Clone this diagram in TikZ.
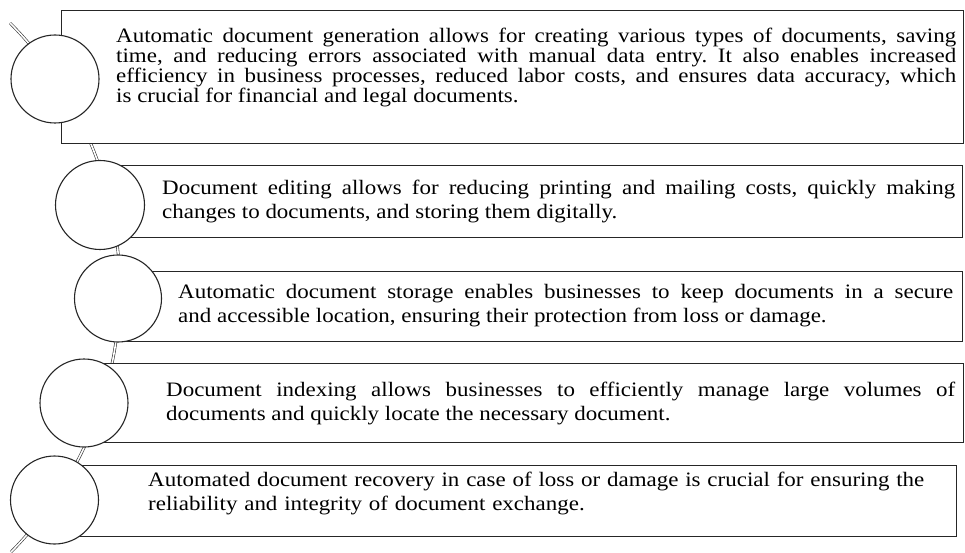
\documentclass[tikz,border=0pt]{standalone}
\usepackage{fontspec}
\setmainfont[FakeStretch=1.12]{Liberation Serif}
\usepackage{tikz}
\frenchspacing

\begin{document}
\begin{tikzpicture}[x=1pt,y=1pt,
  panel/.style={draw=black!85,line width=1.3pt,fill=white,anchor=south west,inner sep=0pt},
  bead/.style={circle,draw=black!85,line width=1.1pt,fill=white,inner sep=0pt,minimum size=88pt},
  note/.style={anchor=west,inner sep=0pt,align=justify,text=black,font=\fontsize{20.5}{24}\selectfont},
  link/.style={draw=black!80,line width=0.6pt,double=white,double distance=1.6pt}]
\useasboundingbox (0,0) rectangle (965,552);
\coordinate (top) at (10,529);
\coordinate (bot) at (11,0);
\draw[link] (top) to[bend left=44.7] (bot);
\node[panel,minimum width=902pt,minimum height=133pt] (b1) at (61,408) {};
\node[panel,minimum width=862pt,minimum height=72pt] (b2) at (100,314) {};
\node[panel,minimum width=844pt,minimum height=70pt] (b3) at (118,210) {};
\node[panel,minimum width=879pt,minimum height=79pt] (b4) at (84,109) {};
\node[panel,minimum width=901pt,minimum height=71pt] (b5) at (55,15) {};
\node[bead] (c1) at (55,473) {};
\node[bead,minimum size=89pt] (c2) at (100,347) {};
\node[bead,minimum size=87pt] (c3) at (118,253.5) {};
\node[bead] (c4) at (84,149) {};
\node[bead] (c5) at (54.5,52) {};
\node[note,text width=840pt,font=\fontsize{20.5}{20}\selectfont] (t1) at (116,484.5) {Automatic document generation allows for creating various types of documents, saving\linebreak time, and reducing errors associated with manual data entry. It also enables increased\linebreak efficiency in business processes, reduced labor costs, and ensures data accuracy, which\linebreak is crucial for financial and legal documents.};
\node[note,text width=793pt] (t2) at (162,350.5) {Document editing allows for reducing printing and mailing costs, quickly making\linebreak changes to documents, and storing them digitally.};
\node[note,text width=775pt] (t3) at (178,246.5) {Automatic document storage enables businesses to keep documents in a secure\linebreak and accessible location, ensuring their protection from loss or damage.};
\node[note,text width=789pt] (t4) at (166,148.5) {Document indexing allows businesses to efficiently manage large volumes of\linebreak documents and quickly locate the necessary document.};
\node[note,text width=800pt,align=left] (t5) at (148,58.5) {Automated document recovery in case of loss or damage is crucial for ensuring the\\reliability and integrity of document exchange.};
\end{tikzpicture}
\end{document}
